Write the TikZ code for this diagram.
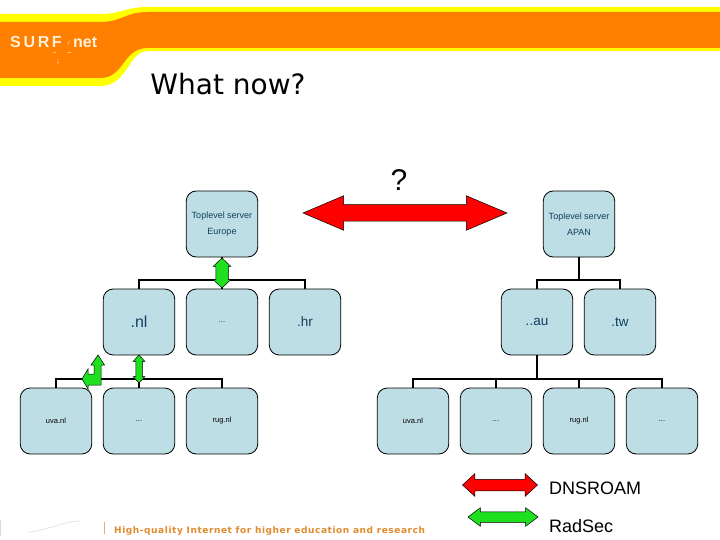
\documentclass[tikz,border=0pt]{standalone}
\usepackage{fontspec}
\setmainfont{Liberation Sans}
\newfontfamily\verafont{DejaVu Sans}
\newfontfamily\mottofont[LetterSpace=6.3]{DejaVu Sans Bold}
\usepackage{xcolor}
\usetikzlibrary{shapes.arrows, positioning}

\definecolor{bandorange}{HTML}{FF7F00}
\definecolor{bandyellow}{HTML}{FFFF00}
\definecolor{boxblue}{HTML}{BCDEE4}
\definecolor{labelblue}{HTML}{123F5F}
\definecolor{footorange}{HTML}{E08A2C}
\definecolor{linkgreen}{HTML}{1FE01F}
\definecolor{logowhite}{HTML}{FFF0D8}

\begin{document}
\begin{tikzpicture}[
    x=1pt, y=-1pt,
    node distance=33pt and 11.5pt,
    box/.style={rectangle, rounded corners=10pt, draw, line width=0.8pt, fill=boxblue, minimum width=71.5pt, minimum height=66pt, outer sep=0pt, inner sep=1pt, align=center},
    topbox/.style={box, text=labelblue, font={\fontsize{9}{16}\selectfont}},
    midbox/.style={box, text=labelblue, font=\fontsize{13.5}{16}\selectfont},
    leafbox/.style={box, font=\fontsize{7.5}{9}\selectfont},
    link/.style={line width=2pt},
    twoway/.style={double arrow, draw=black, line width=0.5pt, outer sep=0pt},
    logotext/.style={text=logowhite, inner sep=0pt},
]
\useasboundingbox (0,0) rectangle (720,540);

% header band
\fill[bandyellow] (0,14) -- (100,14) .. controls (122,14) and (125,7) .. (148,7) -- (720,7) -- (720,51) -- (148,51) .. controls (128,51) and (128,86) .. (100,86) -- (0,86) -- cycle;
\fill[bandorange] (0,22) -- (100,22) .. controls (122,22) and (125,12) .. (148,12) -- (720,12) -- (720,48) -- (148,48) .. controls (122,48) and (125,78) .. (100,78) -- (0,78) -- cycle;

\node[logotext, font=\fontsize{16}{16}\selectfont\bfseries, anchor=west] (logoa) at (10,42) {S\,U\,R\,F};
\node[logotext, font=\fontsize{16}{16}\selectfont\bfseries, anchor=west] (logob) at (73,42) {net};
\node[logotext, font=\fontsize{6}{6}\selectfont\itshape] (logoc) at (68.5,43) {/};
\node[logotext, font=\fontsize{6}{6}\selectfont\bfseries] (logod) at (62,54) {{-}{-}\hspace{11pt}{-}{-}};
\node[logotext, font=\fontsize{7}{7}\selectfont\bfseries] (logoe) at (58,62) {;};

\node[font=\verafont\fontsize{28}{28}\selectfont, inner sep=0pt] (title) at (228,84) {What now?};
\node[font=\fontsize{30}{30}\selectfont, inner sep=0pt] (ask) at (399,180) {?};

% top level
\node[topbox] (europe) at (222,224) {Toplevel server\\Europe};
\node[topbox] (apan) at (579,224) {Toplevel server\\APAN};

% second row
\node[midbox, below=32pt of europe, font=\fontsize{8}{9}\selectfont] (eudots) {...};
\node[midbox, left=of eudots, font=\fontsize{16}{16}\selectfont] (nl) {.nl};
\node[midbox, right=of eudots] (hr) {.hr};
\node[midbox] (au) at (537,322) {..au};
\node[midbox, right=of au] (tw) {.tw};

% leaves
\node[leafbox, below=of eudots] (rugleft) {rug.nl};
\node[leafbox, left=of rugleft] (dotsleft) {...};
\node[leafbox, left=of dotsleft] (uvaleft) {uva.nl};
\node[leafbox] (uvaright) at (413,421) {uva.nl};
\node[leafbox, right=of uvaright] (dotsa) {...};
\node[leafbox, right=of dotsa] (rugright) {rug.nl};
\node[leafbox, right=of rugright] (dotsb) {...};

% tree lines
\foreach \kid in {nl,eudots,hr} \draw[link] (europe.south) -- ++(0,23) -| (\kid.north);
\foreach \kid in {au,tw} \draw[link] (apan.south) -- ++(0,23) -| (\kid.north);
\foreach \kid in {uvaleft,dotsleft,rugleft} \draw[link] (nl.south) ++(0,24) coordinate (nlbus) -| (\kid.north);
\foreach \kid in {uvaright,dotsa,rugright,dotsb} \draw[link] (au.south) -- ++(0,24) -| (\kid.north);

% arrows
\node[twoway, fill=red, inner sep=8pt, minimum height=204pt, double arrow head extend=9pt, double arrow tip angle=46] (bigred) at (405,213) {};
\node[twoway, fill=linkgreen, shape border rotate=90, inner sep=6pt, minimum height=30pt, double arrow head extend=2.5pt, double arrow tip angle=93] (eugreen) at (222,273) {};
\node[twoway, fill=linkgreen, shape border rotate=90, inner sep=3pt, minimum height=28pt, double arrow head extend=2.5pt, double arrow tip angle=85] (nlgreen) at (139,369) {};
\draw[fill=linkgreen, line width=0.5pt] (98,355) -- (104.5,365) -- (101,365) -- (101,385) -- (88,385) -- (88,389) -- (82,379) -- (88,369) -- (88,374) -- (94,374) -- (94,365) -- (91,365) -- cycle;

% legend
\node[twoway, fill=red, inner sep=5.5pt, minimum height=75pt, double arrow head extend=5.5pt, double arrow tip angle=85] (legendred) at (500,485) {};
\node[twoway, fill=linkgreen, inner sep=5pt, minimum height=70pt, double arrow head extend=4pt, double arrow tip angle=74] (legendgreen) at (503,517) {};
\node[font=\fontsize{18}{18}\selectfont, anchor=west, inner sep=0pt] (dnsroam) at (549,488) {DNSROAM};
\node[font=\fontsize{18}{18}\selectfont, anchor=west, inner sep=0pt] (radsec) at (549,526) {RadSec};

% footer
\draw[footorange!70, line width=1pt] (104,522) -- (104,534);
\draw[gray!25, line width=0.7pt] (28,532) .. controls (50,530) and (60,522) .. (80,521);
\draw[gray!30, line width=1pt] (0,520) -- (0,536);
\node[text=footorange, font=\mottofont\fontsize{9}{10}\selectfont, anchor=west, inner sep=0pt] (motto) at (114,531) {High-quality Internet for higher education and research};
\end{tikzpicture}
\end{document}
